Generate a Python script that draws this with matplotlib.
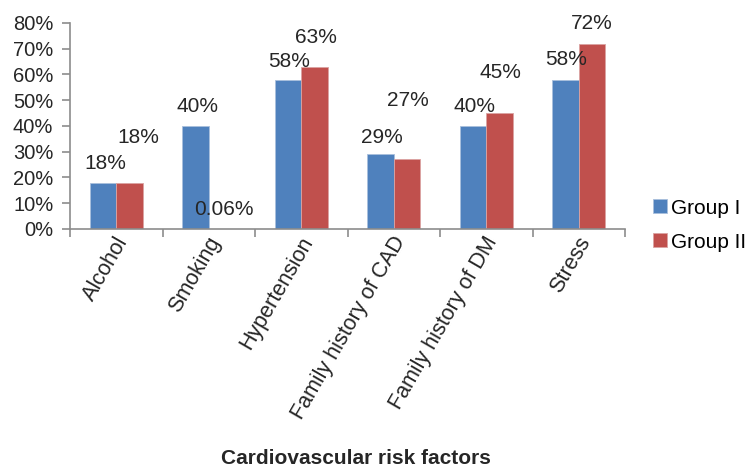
import matplotlib.pyplot as plt
import matplotlib.transforms as mtransforms
import numpy as np

# risk factor percentages per group
factors = ['Alcohol', 'Smoking', 'Hypertension', 'Family history of CAD',
           'Family history of DM', 'Stress']
group1 = [18, 40, 58, 29, 40, 58]
group2 = [18, 0.06, 63, 27, 45, 72]
group1_labels = ['18%', '40%', '58%', '29%', '40%', '58%']
group2_labels = ['18%', '0.06%', '63%', '27%', '45%', '72%']

# label offsets (pixels) above bar tops
g1_off = [(2, 19), (2, 19), (1, 18), (1, 17), (1, 19), (1, 20)]
g2_off = [(9, 45), (2, 19), (1, 29), (1, 59), (1, 41), (0, 20)]

plt.rcParams['font.family'] = ['Liberation Sans', 'DejaVu Sans']

blue = '#4F81BD'
red = '#C0504D'
axis_gray = '#8C8C8C'
text_col = '#262626'

fig = plt.figure(figsize=(7.47, 4.67), dpi=100)
ax = fig.add_axes([70 / 747, 1 - 229 / 467, 555 / 747, 206 / 467])

x = np.arange(len(factors))
w = 1 / 3.5
b1 = ax.bar(x - w / 2, group1, w, color=blue, edgecolor='#a9bfdc', linewidth=0.6, label='Group I')
b2 = ax.bar(x + w / 2, group2, w, color=red, edgecolor='#dba3a2', linewidth=0.6, label='Group II')

for i in range(len(factors)):
    ax.annotate(group1_labels[i], (x[i] - w / 2, group1[i]), xytext=g1_off[i],
                textcoords='offset pixels', ha='center', va='center',
                fontsize=15, color=text_col)
    ax.annotate(group2_labels[i], (x[i] + w / 2, group2[i]), xytext=g2_off[i],
                textcoords='offset pixels', ha='center', va='center',
                fontsize=15, color=text_col)

ax.set_xlim(-0.5, len(factors) - 0.5)
ax.set_ylim(0, 80)
ax.set_yticks(np.arange(0, 81, 10))
ax.set_yticklabels([f'{v}%' for v in range(0, 81, 10)], fontsize=14.5, color=text_col)

# category ticks sit between groups, labels at group centres
ax.set_xticks(np.arange(-0.5, len(factors), 1))
ax.set_xticklabels([])
ax.set_xticks(x, minor=True)
ax.set_xticklabels(factors, minor=True, rotation=60, ha='right', va='center',
                   rotation_mode='anchor', fontsize=15.5, color=text_col)
ax.tick_params(axis='x', which='minor', length=0, pad=6.5)
ax.tick_params(axis='x', which='major', length=6, color=axis_gray, width=1.2)
ax.tick_params(axis='y', length=6, color=axis_gray, width=1.2, pad=6)

shift = mtransforms.ScaledTranslation(7 / 100, 0, fig.dpi_scale_trans)
for lab in ax.get_xticklabels(minor=True):
    lab.set_transform(lab.get_transform() + shift)

for side in ['top', 'right']:
    ax.spines[side].set_visible(False)
for side in ['left', 'bottom']:
    ax.spines[side].set_color(axis_gray)
    ax.spines[side].set_linewidth(1.2)

fig.text(356 / 747, 1 - 459 / 467, 'Cardiovascular risk factors', ha='center',
         va='center', fontsize=15, fontweight='bold', color=text_col)

fig.legend(handles=[b1, b2], loc='center left', bbox_to_anchor=(653 / 747, 1 - 225 / 467),
           frameon=False, fontsize=15, handlelength=0.65, handleheight=0.65,
           handletextpad=0.2, labelspacing=0.72, borderpad=0, borderaxespad=0)

fig.savefig('out.png', dpi=100)
